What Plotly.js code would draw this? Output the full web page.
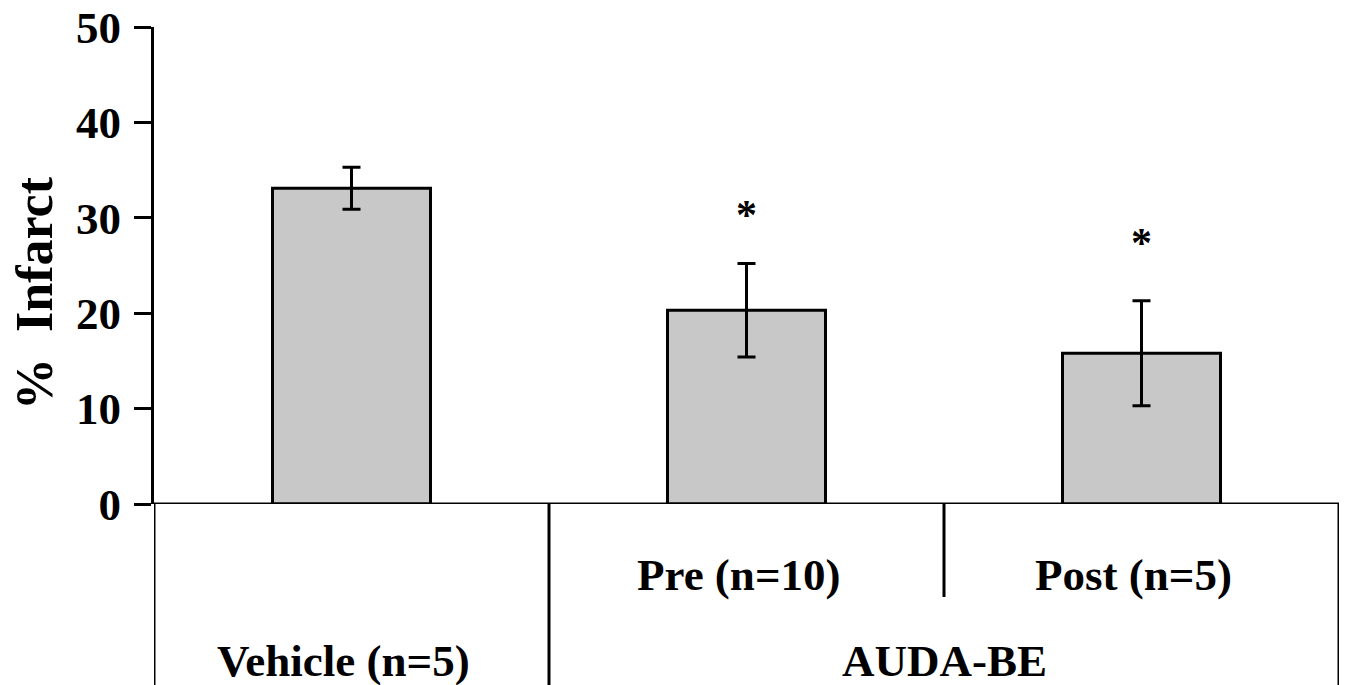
<!DOCTYPE html>
<html>
<head>
<meta charset="utf-8">
<script src="https://cdn.plot.ly/plotly-3.0.1.min.js"></script>
<style>html,body{margin:0;padding:0;background:#fff;}#chart{width:1346px;height:685px;}</style>
</head>
<body>
<div id="chart"></div>
<script>
const categories = ['Vehicle (n=5)', 'Pre (n=10)', 'Post (n=5)'];
const groupLabels = ['Vehicle (n=5)', 'AUDA-BE'];
const subLabels = ['', 'Pre (n=10)', 'Post (n=5)'];
const infarct = [33.1, 20.3, 15.8];
const sem = [2.2, 4.9, 5.5];
const markText = ['', '*', '*'];
const markY = [null, 29.9, 27.0];
const yTicks = [0, 10, 20, 30, 40, 50];

const font = 'Liberation Serif, Times New Roman, serif';
const xIdx = categories.map((c, i) => i);

const traces = [
  {
    type: 'bar',
    x: xIdx,
    y: infarct,
    width: 0.4,
    marker: {color: '#c8c8c8', line: {color: '#000', width: 3}},
    error_y: {type: 'data', array: sem, visible: true, color: '#000', thickness: 3, width: 9},
    hoverinfo: 'skip'
  },
  {
    type: 'scatter',
    mode: 'text',
    x: xIdx,
    y: markY,
    text: markText,
    textfont: {family: font, size: 42, color: '#000', weight: 'bold'},
    textposition: 'middle center',
    hoverinfo: 'skip'
  }
];

const bottomPaper = -181 / 477;
const midPaper = -(597 - 504) / 477;
const shapes = [
  {type: 'line', xref: 'paper', yref: 'y', x0: 0, x1: 1, y0: 0, y1: 0, line: {color: '#000', width: 3}},
  {type: 'line', xref: 'x', yref: 'paper', x0: -0.5, x1: -0.5, y0: 0, y1: bottomPaper, line: {color: '#000', width: 3}},
  {type: 'line', xref: 'x', yref: 'paper', x0: 0.5, x1: 0.5, y0: 0, y1: bottomPaper, line: {color: '#000', width: 3}},
  {type: 'line', xref: 'x', yref: 'paper', x0: 1.5, x1: 1.5, y0: 0, y1: midPaper, line: {color: '#000', width: 3}},
  {type: 'line', xref: 'x', yref: 'paper', x0: 2.5, x1: 2.5, y0: 0, y1: bottomPaper, line: {color: '#000', width: 3}}
];

const labelFont = {family: font, size: 45, color: '#000', weight: 'bold'};
const annotations = [];
subLabels.forEach((t, i) => {
  if (t) annotations.push({xref: 'x', yref: 'paper', x: i, xshift: -8, y: -(575 - 504) / 477, text: '<b>' + t + '</b>', showarrow: false,
    font: labelFont, xanchor: 'center', yanchor: 'middle'});
});
annotations.push({xref: 'x', yref: 'paper', x: 0, xshift: -8, y: -(661 - 504) / 477, text: '<b>' + groupLabels[0] + '</b>', showarrow: false,
  font: labelFont, xanchor: 'center', yanchor: 'middle'});
annotations.push({xref: 'x', yref: 'paper', x: 1.5, y: -(661 - 504) / 477, text: '<b>' + groupLabels[1] + '</b>', showarrow: false,
  font: labelFont, xanchor: 'center', yanchor: 'middle'});
annotations.push({xref: 'paper', yref: 'paper', x: -120 / 1185, y: (504 - 293) / 477, text: '<b>%  Infarct</b>', textangle: -90,
  showarrow: false, font: {family: font, size: 52, color: '#000', weight: 'bold'}, xanchor: 'center', yanchor: 'middle'});

const layout = {
  width: 1346,
  height: 685,
  margin: {l: 154, r: 7, t: 27, b: 181},
  paper_bgcolor: '#fff',
  plot_bgcolor: '#fff',
  showlegend: false,
  xaxis: {
    range: [-0.5, 2.5],
    showticklabels: false,
    ticks: '',
    showgrid: false,
    zeroline: false,
    showline: false,
    fixedrange: true
  },
  yaxis: {
    range: [0, 50],
    tickvals: yTicks,
    ticktext: yTicks.map(String),
    ticks: 'outside',
    ticklen: 17,
    tickwidth: 3,
    tickcolor: '#000',
    ticklabelstandoff: 4,
    showline: true,
    linewidth: 3,
    linecolor: '#000',
    showgrid: false,
    zeroline: false,
    tickfont: {family: font, size: 45, color: '#000', weight: 'bold'},
    fixedrange: true
  },
  font: {family: font, color: '#000', weight: 'bold'},
  shapes: shapes,
  annotations: annotations
};

Plotly.newPlot('chart', traces, layout, {displayModeBar: false, staticPlot: true});
</script>
</body>
</html>
